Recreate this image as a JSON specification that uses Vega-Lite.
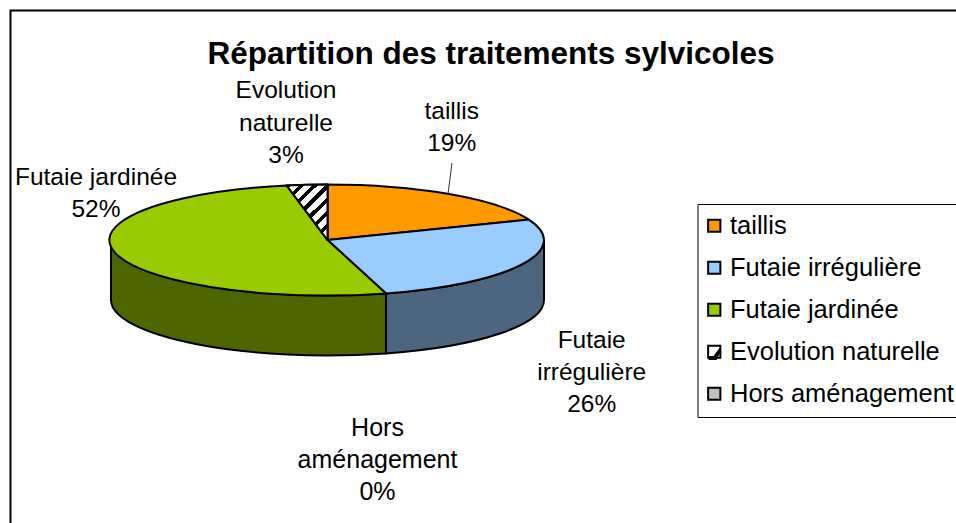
{
  "$schema": "https://vega.github.io/schema/vega-lite/v6.json",
  "autosize": "none",
  "padding": {"left": 10.5, "top": 10.5, "right": 0, "bottom": 0},
  "width": 950,
  "height": 515,
  "background": "white",
  "view": {"stroke": "#000000", "strokeWidth": 2, "fill": "white"},
  "config": {"font": "Liberation Sans"},
  "title": {"text": "Répartition des traitements sylvicoles", "font": "Liberation Sans", "fontSize": 31.5, "fontWeight": "bold", "color": "#000000", "anchor": "middle", "dx": 5.5, "dy": 31, "offset": -53.5, "baseline": "alphabetic"},
  "data": {"values": [
    {"name": "taillis", "share": 19, "label": ["taillis", "19%"]},
    {"name": "Futaie irrégulière", "share": 26, "label": ["Futaie", "irrégulière", "26%"]},
    {"name": "Futaie jardinée", "share": 52, "label": ["Futaie jardinée", "52%"]},
    {"name": "Evolution naturelle", "share": 3, "label": ["Evolution", "naturelle", "3%"]},
    {"name": "Hors aménagement", "share": 0, "label": ["Hors", "aménagement", "0%"]}
  ]},
  "encoding": {
    "x": {"datum": 327.5, "type": "quantitative", "scale": {"domain": [10.5, 960.5]}, "axis": null},
    "y": {"datum": 240, "type": "quantitative", "scale": {"domain": [10.5, 525.5], "reverse": true}, "axis": null}
  },
  "layer": [
    {
      "transform": [{"filter": "datum.name === 'Futaie irrégulière' || datum.name === 'Futaie jardinée'"}],
      "mark": {"type": "point", "filled": true, "size": 4, "opacity": 1, "stroke": "#000000", "strokeWidth": 2, "strokeJoin": "round"},
      "encoding": {
        "shape": {"field": "name", "type": "nominal", "legend": null, "scale": {"domain": ["Futaie irrégulière", "Futaie jardinée"], "range": [
          "M216.5,0A216.5,55.5 0 0 1 58.5,53.4L58.5,113.4A216.5,55.5 0 0 0 216.5,60Z",
          "M58.5,53.4A216.5,55.5 0 0 1 -216.5,0L-216.5,60A216.5,55.5 0 0 0 58.5,113.4Z"
        ]}},
        "fill": {"field": "name", "type": "nominal", "legend": null, "scale": {"domain": ["Futaie jardinée", "Futaie irrégulière"], "range": ["#4d6600", "#4d6680"]}}
      }
    },
    {
      "mark": {"type": "point", "filled": true, "size": 4, "opacity": 1, "stroke": "#000000", "strokeWidth": 2, "strokeJoin": "round"},
      "encoding": {
        "shape": {"field": "name", "type": "nominal", "legend": null, "scale": {"domain": ["Hors aménagement", "taillis", "Futaie irrégulière", "Futaie jardinée", "Evolution naturelle"], "range": [
          "M0,0",
          "M0,0L0,-55.5A216.5,55.5 0 0 1 201.3,-20.4Z",
          "M0,0L201.3,-20.4A216.5,55.5 0 0 1 58.5,53.4Z",
          "M0,0L58.5,53.4A216.5,55.5 0 1 1 -40.8,-54.5Z",
          "M0,0L-40.8,-54.5A216.5,55.5 0 0 1 0,-55.5Z"
        ]}},
        "fill": {"field": "name", "type": "nominal", "sort": null, "scale": {"domain": ["taillis", "Futaie irrégulière", "Futaie jardinée", "Evolution naturelle", "Hors aménagement"], "range": ["#ff9900", "#99ccff", "#99cc00", "transparent", "#c0c0c0"]}, "legend": {
          "title": null, "orient": "none", "legendX": 687, "legendY": 193.5, "symbolType": "square", "symbolSize": 150, "symbolOffset": -5, "symbolOpacity": 1,
          "labelFont": "Liberation Sans", "labelFontSize": 25.5, "labelColor": "#000000", "labelLimit": 400, "labelOffset": 3, "rowPadding": 15, "padding": 9, "strokeColor": "#000000", "values": ["taillis", "Futaie irrégulière", "Futaie jardinée", "Evolution naturelle", "Hors aménagement"],
          "encoding": {"symbols": {"stroke": {"value": "#000000"}, "strokeWidth": {"value": 2}}}
        }}
      }
    },
    {
      "transform": [{"filter": "datum.name === 'Evolution naturelle'"}],
      "mark": {"type": "point", "filled": true, "size": 4, "opacity": 1, "stroke": "#000000", "strokeWidth": 2, "strokeJoin": "round", "shape": "M0,0L-40.8,-54.5A216.5,55.5 0 0 1 0,-55.5Z",
        "fill": {"gradient": "linear", "x1": 0, "y1": 0, "x2": 1, "y2": 1.375, "stops": [
          {"offset": 0, "color": "#000000"}, {"offset": 0.045, "color": "#000000"}, {"offset": 0.045, "color": "#ffffff"}, {"offset": 0.1125, "color": "#ffffff"},
          {"offset": 0.1125, "color": "#000000"}, {"offset": 0.1575, "color": "#000000"}, {"offset": 0.1575, "color": "#ffffff"}, {"offset": 0.225, "color": "#ffffff"},
          {"offset": 0.225, "color": "#000000"}, {"offset": 0.27, "color": "#000000"}, {"offset": 0.27, "color": "#ffffff"}, {"offset": 0.3375, "color": "#ffffff"},
          {"offset": 0.3375, "color": "#000000"}, {"offset": 0.3825, "color": "#000000"}, {"offset": 0.3825, "color": "#ffffff"}, {"offset": 0.45, "color": "#ffffff"},
          {"offset": 0.45, "color": "#000000"}, {"offset": 0.495, "color": "#000000"}, {"offset": 0.495, "color": "#ffffff"}, {"offset": 0.5625, "color": "#ffffff"},
          {"offset": 0.5625, "color": "#000000"}, {"offset": 0.6075, "color": "#000000"}, {"offset": 0.6075, "color": "#ffffff"}, {"offset": 0.675, "color": "#ffffff"},
          {"offset": 0.675, "color": "#000000"}, {"offset": 0.72, "color": "#000000"}, {"offset": 0.72, "color": "#ffffff"}, {"offset": 0.7875, "color": "#ffffff"},
          {"offset": 0.7875, "color": "#000000"}, {"offset": 0.8325, "color": "#000000"}, {"offset": 0.8325, "color": "#ffffff"}, {"offset": 1, "color": "#ffffff"}
        ]}}
    },
    {
      "transform": [{"filter": "datum.name === 'Evolution naturelle'"}],
      "mark": {"type": "point", "filled": true, "size": 4, "opacity": 1, "fill": "#000000", "stroke": null, "shape": "M-6,6L-6,2L-1,2L5,-6L6,-6L6,-2L2,6Z"},
      "encoding": {"x": {"datum": 714.5}, "y": {"datum": 354}}
    },
    {
      "transform": [{"filter": "datum.name === 'taillis'"}],
      "mark": {"type": "rule", "stroke": "#333333", "strokeWidth": 1},
      "encoding": {"x": {"datum": 452}, "y": {"datum": 163}, "x2": {"datum": 448}, "y2": {"datum": 194}}
    },
    {
      "transform": [{"filter": "datum.name === 'taillis'"}],
      "mark": {"type": "text", "font": "Liberation Sans", "fontSize": 24.5, "align": "center", "baseline": "alphabetic", "lineHeight": 32.5, "color": "#000000"},
      "encoding": {"x": {"datum": 451.7}, "y": {"datum": 118.5}, "text": {"field": "label"}}
    },
    {
      "transform": [{"filter": "datum.name === 'Futaie irrégulière'"}],
      "mark": {"type": "text", "font": "Liberation Sans", "fontSize": 24.5, "align": "center", "baseline": "alphabetic", "lineHeight": 32, "color": "#000000"},
      "encoding": {"x": {"datum": 591.7}, "y": {"datum": 348}, "text": {"field": "label"}}
    },
    {
      "transform": [{"filter": "datum.name === 'Futaie jardinée'"}],
      "mark": {"type": "text", "font": "Liberation Sans", "fontSize": 24.5, "align": "center", "baseline": "alphabetic", "lineHeight": 32, "color": "#000000"},
      "encoding": {"x": {"datum": 96}, "y": {"datum": 185}, "text": {"field": "label"}}
    },
    {
      "transform": [{"filter": "datum.name === 'Evolution naturelle'"}],
      "mark": {"type": "text", "font": "Liberation Sans", "fontSize": 24.5, "align": "center", "baseline": "alphabetic", "lineHeight": 32.5, "color": "#000000"},
      "encoding": {"x": {"datum": 286}, "y": {"datum": 98}, "text": {"field": "label"}}
    },
    {
      "transform": [{"filter": "datum.name === 'Hors aménagement'"}],
      "mark": {"type": "text", "font": "Liberation Sans", "fontSize": 25, "align": "center", "baseline": "alphabetic", "lineHeight": 32, "color": "#000000"},
      "encoding": {"x": {"datum": 377.5}, "y": {"datum": 436}, "text": {"field": "label"}}
    }
  ],
  "resolve": {"scale": {"shape": "independent", "fill": "independent"}}
}
